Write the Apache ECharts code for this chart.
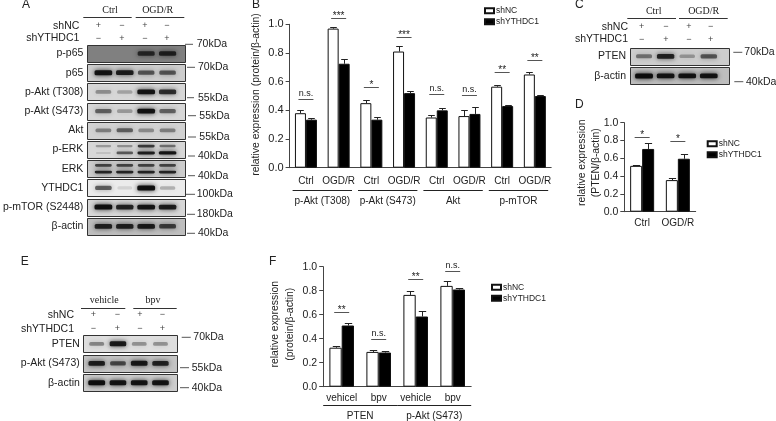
<!DOCTYPE html>
<html><head><meta charset="utf-8">
<script src="https://cdn.jsdelivr.net/npm/echarts@6/dist/echarts.min.js"></script>
<style>html,body{margin:0;padding:0;background:#fff}#c{width:776px;height:421px;filter:blur(0.4px)}</style>
</head><body><div id="c"></div>
<script>
// ---------- bar chart data ----------
const groupNames = ['shNC', 'shYTHDC1'];
const catB = ['Ctrl','OGD/R','Ctrl','OGD/R','Ctrl','OGD/R','Ctrl','OGD/R'];
const whiteB = [0.38,0.97,0.45,0.81,0.35,0.36,0.565,0.65];
const blackB = [0.335,0.725,0.335,0.52,0.40,0.375,0.43,0.50];
const whiteErrB = [0.02,0.01,0.02,0.04,0.02,0.045,0.015,0.02];
const blackErrB = [0.015,0.035,0.02,0.015,0.015,0.05,0.005,0.005];
const sigTextB = ['n.s.','***','*','***','n.s.','n.s.','**','**'];
const sigLevelB = [0.48,1.045,0.565,0.913,0.514,0.507,0.67,0.75];
const bracketNamesB = ['p-Akt (T308)','p-Akt (S473)','Akt','p-mTOR'];

const catD = ['Ctrl','OGD/R'];
const whiteD = [0.515,0.355];
const blackD = [0.705,0.595];
const whiteErrD = [0.01,0.02];
const blackErrD = [0.065,0.05];
const sigTextD = ['*','*'];
const sigLevelD = [0.843,0.80];

const catF = ['vehicel','bpv','vehicle','bpv'];
const whiteF = [0.325,0.29,0.765,0.84];
const blackF = [0.51,0.285,0.585,0.81];
const whiteErrF = [0.015,0.02,0.03,0.045];
const blackErrF = [0.02,0.015,0.05,0.015];
const sigTextF = ['**','n.s.','**','n.s.'];
const sigLevelF = [0.625,0.397,0.897,0.964];
const bracketNamesF = ['PTEN','p-Akt (S473)'];

// ---------- blot data (band darkness per lane) ----------
const rowsA = ['p-p65','p65','p-Akt (T308)','p-Akt (S473)','Akt','p-ERK','ERK','YTHDC1','p-mTOR (S2448)','β-actin'];
const bgA = [128,205,215,215,210,215,205,235,215,190];
const bandsA = [[0,0,0.75,0.8],[0.95,0.9,0.6,0.6],[0.35,0.25,0.95,0.8],[0.55,0.3,0.95,0.55],[0.4,0.55,0.35,0.4],[0.3,0.35,0.75,0.5],[0.7,0.7,0.7,0.7],[0.6,0.1,0.98,0.25],[0.98,0.85,0.95,0.9],[0.85,0.85,0.9,0.7]];
const lowerBandsA = {5:[0.12,0.6,0.9,0.95], 6:[0.85,0.85,0.85,0.85]};
const kdaA = ['70kDa','70kDa','55kDa','55kDa','55kDa','40kDa','40kDa','100kDa','180kDa','40kDa'];

const rowsC = ['PTEN','β-actin'];
const bgC = [205,190];
const bandsC = [[0.45,0.85,0.3,0.6],[1,0.95,0.95,0.95]];
const kdaC = ['70kDa','40kDa'];

const rowsE = ['PTEN','p-Akt (S473)','β-actin'];
const bgE = [222,195,205];
const bandsE = [[0.4,0.92,0.35,0.35],[0.88,0.65,0.92,0.85],[1,0.95,0.95,0.95]];
const kdaE = ['70kDa','55kDa','40kDa'];

const markNC = ['+','−','+','−'];
const markYT = ['−','+','−','+'];
const headAC = ['Ctrl','OGD/R'];
const headE = ['vehicle','bpv'];

// ---------- helpers ----------
const SANS = '"Liberation Sans",Arial,sans-serif';
const SERIF = '"Liberation Serif","Times New Roman",serif';
const INK = '#222';
const grids=[], xAxes=[], yAxes=[], series=[], graphics=[];

function T(text,x,y,o){o=o||{};graphics.push({type:'text',silent:true,x:x,y:y,style:{text:text,fill:o.fill||INK,
  fontFamily:o.font||SANS,fontSize:o.size||10.5,align:o.align||'left',verticalAlign:'middle'}});}
function L(x1,y,x2,o){graphics.push({type:'line',silent:true,shape:{x1:x1,y1:y,x2:x2,y2:y},style:{stroke:(o&&o.c)||'#333',lineWidth:(o&&o.w)||1}});}

function barPanel(p){
  const g=grids.length;
  grids.push({left:p.left,top:p.top,width:p.width,height:p.height});
  xAxes.push({gridIndex:g,type:'category',data:p.cats,axisTick:{show:false},
    axisLine:{lineStyle:{color:'#444',width:1}},
    axisLabel:{color:INK,fontFamily:SANS,fontSize:p.catSize||10,margin:p.catMargin||7,interval:0}});
  yAxes.push({gridIndex:g,type:'value',min:0,max:1,interval:0.2,splitLine:{show:false},
    name:p.yName,nameLocation:'middle',nameRotate:90,nameGap:p.nameGap,nameMoveOverlap:false,
    nameTextStyle:{color:INK,fontFamily:SANS,fontSize:p.nameSize||10.5,lineHeight:p.nameLine||14,padding:[0,0,0,p.nameShift||0]},
    axisLine:{show:true,lineStyle:{color:'#444',width:1}},axisTick:{show:true,length:4,lineStyle:{color:'#444'}},
    axisLabel:{color:INK,fontFamily:SANS,fontSize:p.tickSize||11,margin:6,formatter:v=>v.toFixed(1)}});
  const bw=p.barWidth;
  const bar=(name,vals,fill)=>({type:'bar',name:name,xAxisIndex:g,yAxisIndex:g,data:vals,barWidth:bw,barGap:0,silent:true,
    animation:false,itemStyle:{color:fill,borderColor:'#111',borderWidth:1}});
  series.push(bar(groupNames[0],p.white,'#fff'),bar(groupNames[1],p.black,'#000'));
  const err=(vals,errs,dx)=>({type:'custom',xAxisIndex:g,yAxisIndex:g,silent:true,animation:false,z:1,
    data:vals.map((v,i)=>[i,v,errs[i]]),encode:{x:0,y:1},
    renderItem:(_,api)=>{const a=api.coord([api.value(0),api.value(1)]),b=api.coord([api.value(0),api.value(1)+api.value(2)]);
      const x=Math.round(a[0]+dx)+0.5,y=Math.round(b[1])+0.5,c=bw*0.3;
      return {type:'group',children:[
        {type:'line',shape:{x1:x,y1:a[1],x2:x,y2:y},style:{stroke:'#222',lineWidth:1}},
        {type:'line',shape:{x1:x-c,y1:y,x2:x+c,y2:y},style:{stroke:'#222',lineWidth:1}}]};}});
  series.push(err(p.white,p.whiteErr,-bw/2),err(p.black,p.blackErr,bw/2));
  series.push({type:'custom',xAxisIndex:g,yAxisIndex:g,silent:true,animation:false,z:3,
    data:p.sigLevel.map((v,i)=>[i,v]),encode:{x:0,y:1},
    renderItem:(ps,api)=>{const c=api.coord([api.value(0),api.value(1)]);const s=p.sigText[ps.dataIndex];const ns=s==='n.s.';const y=Math.round(c[1])+0.5;
      return {type:'group',children:[
        {type:'line',shape:{x1:c[0]-p.sigHalf,y1:y,x2:c[0]+p.sigHalf,y2:y},style:{stroke:'#555',lineWidth:1}},
        {type:'text',style:{text:s,x:c[0],y:ns?y-1:y+3,align:'center',verticalAlign:'bottom',fill:INK,fontFamily:SANS,fontSize:ns?9:10}}]};}});
  if(p.brackets){
    series.push({type:'custom',xAxisIndex:g,yAxisIndex:g,silent:true,animation:false,
      data:p.brackets.map((n,i)=>[i,0]),encode:{x:0,y:1},
      renderItem:(ps,api)=>{const i=api.value(0),n=p.bracketSpan;
        const a=api.coord([i*n,0]),b=api.coord([i*n+n-1,0]);
        const half=api.size([1,0])[0]/2-p.bracketInset;
        const y=Math.round(a[1]+p.bracketOffset)+0.5;
        return {type:'group',children:[
          {type:'line',shape:{x1:a[0]-half,y1:y,x2:b[0]+half,y2:y},style:{stroke:'#222',lineWidth:1}},
          {type:'text',style:{text:p.brackets[ps.dataIndex],x:(a[0]+b[0])/2,y:y+p.bracketText,align:'center',verticalAlign:'middle',fill:INK,fontFamily:SANS,fontSize:p.catSize||10}}]};}});
  }
}

function blotPanel(p){
  const g=grids.length,pitch=p.pitch,h=p.frameH;
  grids.push({left:p.left,top:p.top-(pitch-h)/2,width:p.right-p.left,height:pitch*p.rows.length});
  // lane axis: lane numbers 1..4 map onto the measured band centres
  xAxes.push({gridIndex:g,type:'value',show:false,min:p.laneMin,max:p.laneMax});
  yAxes.push({gridIndex:g,type:'category',inverse:true,data:p.rows,axisLine:{show:false},axisTick:{show:false},
    axisLabel:{color:INK,fontFamily:SANS,fontSize:10.5,margin:p.labelMargin||4,interval:0}});
  series.push({type:'custom',xAxisIndex:g,yAxisIndex:g,silent:true,animation:false,
    data:p.bg.map((v,i)=>[0,i,v]),encode:{x:0,y:1},
    renderItem:(_,api)=>{const c=api.coord([p.laneMin,api.value(1)]);const v=api.value(2);
      const x=Math.round(c[0])+0.5,w=Math.round(p.right-p.left);
      return {type:'rect',shape:{x:x,y:Math.round(c[1]-h/2)+0.5,width:w,height:Math.round(h)},
        style:{fill:`rgb(${v},${v},${v})`,stroke:'#333',lineWidth:1}};}});
  const items=[];
  p.bands.forEach((r,i)=>r.forEach((d,l)=>{
    const lower=p.lower&&p.lower[i];
    if(d>0.02)items.push([l+1,i,d,lower?-1:0]);
    if(lower&&lower[l]>0.02)items.push([l+1,i,lower[l],1]);
  }));
  series.push({type:'custom',xAxisIndex:g,yAxisIndex:g,silent:true,animation:false,clip:true,z:3,
    data:items,encode:{x:0,y:1},
    renderItem:(_,api)=>{const c=api.coord([api.value(0),api.value(1)]);const d=api.value(2),o=api.value(3);
      const bw=p.bandW*(0.85+0.2*d),bh=(o?2.6:4.2)*(0.7+0.5*d);
      const col=`rgba(8,8,8,${Math.min(1,d*0.95).toFixed(2)})`;
      return {type:'rect',shape:{x:c[0]-bw/2,y:c[1]+o*3.4-bh/2,width:bw,height:bh,r:1.5},
        style:{fill:col,shadowBlur:5,shadowColor:col}};}});
}

// ---------- bar panels ----------
barPanel({left:289.6,top:24.3,width:261.6,height:143.4,cats:catB,white:whiteB,black:blackB,whiteErr:whiteErrB,blackErr:blackErrB,
  sigText:sigTextB,sigLevel:sigLevelB,sigHalf:7.5,barWidth:11,yName:'relative expression (protein/β-actin)',nameGap:26.3,nameSize:10.4,nameShift:3,catMargin:9,
  brackets:bracketNamesB,bracketSpan:2,bracketInset:3,bracketOffset:22.5,bracketText:10.5,catSize:10});
barPanel({left:624.3,top:122.7,width:71.4,height:89,cats:catD,white:whiteD,black:blackD,whiteErr:whiteErrD,blackErr:blackErrD,
  sigText:sigTextD,sigLevel:sigLevelD,sigHalf:7.5,barWidth:12,yName:'relative expression\n(PTEN/β-actin)',nameGap:21.3,nameSize:10.4,nameLine:14,nameShift:9,tickSize:10.5});
barPanel({left:323.2,top:266.7,width:148,height:120,cats:catF,white:whiteF,black:blackF,whiteErr:whiteErrF,blackErr:blackErrF,
  sigText:sigTextF,sigLevel:sigLevelF,sigHalf:7.5,barWidth:12.3,yName:'relative expression\n(protein/β-actin)',nameGap:25.7,nameSize:10.4,nameLine:15,nameShift:5,tickSize:10.5,
  brackets:bracketNamesF,bracketSpan:2,bracketInset:0,bracketOffset:18.5,bracketText:11,catSize:10});

// ---------- blots ----------
blotPanel({left:83.3,right:181.7,top:45,pitch:19.2,frameH:17,rows:rowsA,bg:bgA,bands:bandsA,lower:lowerBandsA,
  laneMin:0.25,laneMax:4.66,bandW:17});
blotPanel({left:630,right:729.3,top:47.7,pitch:19.6,frameH:17.2,rows:rowsC,bg:bgC,bands:bandsC,
  laneMin:0.35,laneMax:4.95,bandW:17,labelMargin:4});
blotPanel({left:83.3,right:177.7,top:335.3,pitch:19.5,frameH:17,rows:rowsE,bg:bgE,bands:bandsE,
  laneMin:0.37,laneMax:4.81,bandW:16,labelMargin:3.5});

// ---------- panel letters ----------
[['A',22,5],['B',252,4.5],['C',575,5],['D',575,105],['E',20.7,262],['F',269,262]].forEach(a=>T(a[0],a[1],a[2],{size:12}));

// ---------- headers ----------
function header(names,centres,y,lines,lineY,nameRight,yNC,yYT,marks,size){
  names.forEach((n,i)=>T(n,centres[i],y,{font:SERIF,size:size||10,align:'center'}));
  lines.forEach(l=>L(l[0],lineY,l[1]));
  T(groupNames[0],nameRight,yNC,{align:'right'});
  T(groupNames[1],nameRight,yYT,{align:'right'});
  marks.forEach((x,i)=>{T(markNC[i],x,yNC,{align:'center',size:9,fill:'#444'});T(markYT[i],x,yYT,{align:'center',size:9,fill:'#444'});});
}
header(headAC,[110,157.7],10.7,[[83.3,131.7],[135.7,184.3]],17.5,79.3,25.7,38.3,[98.5,122,145,167]);
header(headAC,[653.7,703.7],11,[[627.3,676],[679,727.7]],18.5,628,26.7,39.3,[641.7,666,689,710.7]);
header(headE,[104.3,153],300.7,[[81,125.3],[133.3,176.7]],308.5,74,315,329,[93.3,117.3,140,162.3]);

// ---------- kDa markers ----------
function kda(names,pos){names.forEach((n,i)=>{const q=pos[i];L(q[0],q[1],q[2],{c:'#555'});T(n,q[3],q[1],{size:10.5});});}
kda(kdaA,[[185,44.3,193,196.7],[187,67.3,195,198],[187,97.7,194,198],[188,115.7,196,199.3],[188,137,196,199.3],[188,156,195,198],[188,175.7,195,198],[186,194.3,195,196.7],[187,214.3,195,196.7],[187,233.3,195,198]]);
kda(kdaC,[[733.3,52.3,742.3,744.3],[734.3,81.7,743.3,746]]);
kda(kdaE,[[181.7,337.3,190.7,193.3],[180,367.7,189,191.7],[180,387.7,189,191.7]]);

// ---------- legends ----------
const lg=(left,top)=>({left:left,top:top,orient:'vertical',padding:0,itemWidth:9,itemHeight:5,itemGap:1.5,icon:'rect',selectedMode:false,
  data:groupNames,textStyle:{color:INK,fontFamily:SANS,fontSize:8.5,padding:[0,0,0,-3],lineHeight:9.5}});

const chart=echarts.init(document.getElementById('c'),null,{renderer:'canvas'});
chart.setOption({animation:false,backgroundColor:'#fff',grid:grids,xAxis:xAxes,yAxis:yAxes,series:series,graphic:graphics,
  legend:[lg(484,6),lg(706.7,139),lg(491,282.5)]});
</script></body></html>
